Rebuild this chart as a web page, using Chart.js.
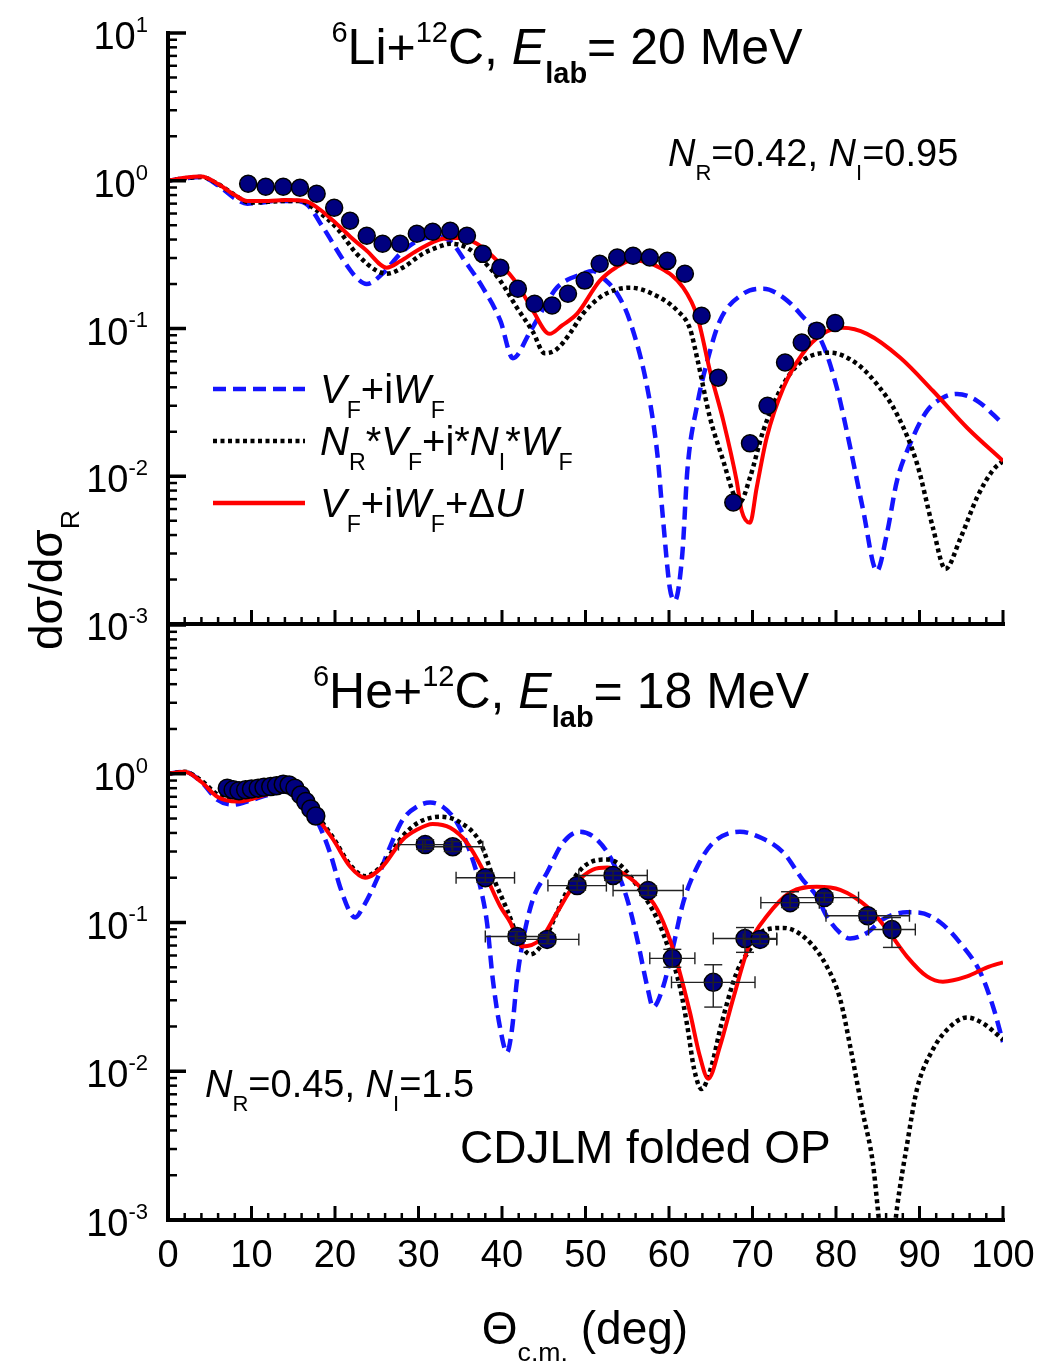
<!DOCTYPE html>
<html>
<head>
<meta charset="utf-8">
<title>6Li+12C and 6He+12C elastic scattering</title>
<script src="https://cdn.jsdelivr.net/npm/chart.js@4.4.1/dist/chart.umd.min.js"></script>
<style>
  body { margin: 0; background: #fff; }
  #figure { position: relative; width: 1049px; height: 1362px; }
  #figure canvas { position: absolute; left: 0; }
</style>
</head>
<body>
<div id="figure">
  <canvas id="liChart" width="1049" height="700" style="top:0"></canvas>
  <canvas id="heChart" width="1049" height="762" style="top:600px"></canvas>
</div>
<script>
// Axis ticks
const angleTicks = [0, 10, 20, 30, 40, 50, 60, 70, 80, 90, 100];
const liDecades = [1, 0, -1, -2, -3];
const heDecades = [0, -1, -2, -3];

// 6Li + 12C at 20 MeV
const liExpAngle = [9.6, 11.7, 13.8, 15.8, 17.8, 19.9, 21.8, 23.8, 25.7, 27.8, 29.8, 31.7, 33.8, 35.8,
  37.7, 39.8, 41.9, 43.9, 46.0, 47.9, 49.9, 51.7, 53.8, 55.7, 57.7, 59.8, 61.9, 63.9, 65.9, 67.7,
  69.7, 71.8, 73.9, 75.9, 77.7, 79.9];
const liExpRatio = [0.954, 0.911, 0.911, 0.897, 0.817, 0.656, 0.536, 0.424, 0.375, 0.375, 0.438, 0.452,
  0.459, 0.424, 0.32, 0.258, 0.186, 0.147, 0.143, 0.172, 0.211, 0.274, 0.302, 0.311, 0.302, 0.287,
  0.235, 0.122, 0.0465, 0.00664, 0.0167, 0.030, 0.0589, 0.0803, 0.0967, 0.109];

// V_F + iW_F
const liFoldAngle = [0, 2, 4, 6, 8, 9.5, 11, 13, 15, 16.5, 18.6, 21.0, 22.6, 23.8, 25.7, 27.8, 29.8,
  32.2, 33.8, 35.8, 37.7, 39.8, 41.3, 43.4, 45.5, 46.6, 49.7, 50.9, 52.1, 53.8, 55.3, 57.4, 58.6,
  59.3, 60.1, 60.7, 61.6, 62.2, 63.4, 64.6, 66.1, 68.9, 71.3, 73.7, 75.7, 78.4, 80.1, 81.7, 83.2,
  84.9, 86.1, 87.3, 88.9, 90.9, 92.8, 94.5, 96.9, 100];
const liFoldRatio = [1.0, 1.04, 1.06, 0.93, 0.76, 0.70, 0.71, 0.73, 0.73, 0.70, 0.48, 0.29, 0.22, 0.20,
  0.235, 0.32, 0.39, 0.42, 0.39, 0.274, 0.189, 0.113, 0.063, 0.096, 0.154, 0.19, 0.235, 0.245, 0.22,
  0.172, 0.113, 0.0397, 0.0142, 0.005, 0.00175, 0.00144, 0.003, 0.011, 0.0309, 0.0606, 0.113, 0.172,
  0.186, 0.162, 0.126, 0.0787, 0.0397, 0.0157, 0.0061, 0.00229, 0.0041, 0.0093, 0.0167, 0.0277,
  0.034, 0.0361, 0.0324, 0.0226];

// N_R*V_F + i*N_I*W_F
const liNormAngle = [0, 2, 4, 6, 8, 9.8, 12, 14, 15.8, 17.8, 20.2, 22.6, 25.0, 26.2, 28.1, 30.5, 32.6,
  33.8, 35.8, 37.7, 39.8, 41.8, 43.7, 45.1, 46.5, 48.1, 49.7, 51.7, 53.5, 55.3, 57.7, 61.0, 62.5,
  63.4, 64.9, 66.5, 67.9, 68.5, 69.7, 71.3, 73.7, 76.0, 79.3, 82.5, 84.9, 87.3, 89.7, 91.6, 93.1,
  94.9, 96.9, 98.8, 100];
const liNormRatio = [1.0, 1.04, 1.06, 0.95, 0.80, 0.71, 0.72, 0.73, 0.73, 0.63, 0.48, 0.32, 0.246,
  0.235, 0.258, 0.32, 0.36, 0.375, 0.352, 0.288, 0.21, 0.138, 0.095, 0.068, 0.072, 0.092, 0.126,
  0.162, 0.182, 0.189, 0.175, 0.132, 0.1, 0.062, 0.025, 0.0127, 0.0072, 0.0067, 0.0098, 0.0204,
  0.042, 0.0606, 0.0686, 0.0577, 0.042, 0.0263, 0.0122, 0.0045, 0.00236, 0.0038, 0.0072, 0.011, 0.0127];

// V_F + iW_F + dU
const liDuAngle = [0, 2, 4, 6, 8, 9.5, 12, 14, 16.4, 18, 19.8, 21.8, 23.8, 26.2, 27.8, 29.8, 32.9,
  34.6, 37.0, 39.8, 41.8, 43.7, 45.7, 47.2, 49.0, 51.7, 53.7, 55.7, 58.9, 61.7, 63.4, 64.9, 66.5,
  68.1, 68.7, 69.7, 70.5, 71.7, 73.7, 76.0, 78.4, 80.8, 83.7, 87.7, 91.6, 95.7, 100];
const liDuRatio = [1.0, 1.05, 1.07, 0.95, 0.80, 0.73, 0.73, 0.74, 0.73, 0.65, 0.536, 0.42, 0.336,
  0.258, 0.285, 0.336, 0.405, 0.41, 0.375, 0.274, 0.201, 0.132, 0.092, 0.105, 0.126, 0.21, 0.26,
  0.29, 0.258, 0.189, 0.12, 0.0518, 0.0238, 0.00933, 0.00584, 0.00484, 0.00836, 0.0182, 0.0397,
  0.0675, 0.092, 0.101, 0.092, 0.0634, 0.0379, 0.0213, 0.0127];

// 6He + 12C at 18 MeV
const heExpAngle = [7.1, 7.8, 8.5, 9.3, 10.0, 10.8, 11.5, 12.3, 13.0, 13.8, 14.5, 15.2, 15.9, 16.5,
  17.1, 17.7, 30.8, 34.1, 38.0, 41.8, 45.4, 49.0, 53.3, 57.5, 60.4, 65.3, 69.1, 70.9, 74.5, 78.6,
  83.8, 86.7];
const heExpRatio = [0.80, 0.78, 0.77, 0.78, 0.79, 0.80, 0.81, 0.82, 0.83, 0.85, 0.84, 0.80, 0.72,
  0.65, 0.58, 0.52, 0.334, 0.323, 0.2, 0.0806, 0.077, 0.177, 0.207, 0.164, 0.0574, 0.0396, 0.078,
  0.077, 0.136, 0.147, 0.111, 0.0897];
const heExpAngleErr = [0, 0, 0, 0, 0, 0, 0, 0, 0, 0, 0, 0, 0, 0, 0, 0, 3.2, 3.6, 3.5, 3.8, 3.8, 3.5,
  4.1, 4.2, 2.7, 5.0, 3.8, 2.0, 3.5, 4.1, 5.0, 2.8];
const heExpRatioLo = [0.80, 0.78, 0.77, 0.78, 0.79, 0.80, 0.81, 0.82, 0.83, 0.85, 0.84, 0.80, 0.72,
  0.65, 0.58, 0.52, 0.31, 0.30, 0.186, 0.075, 0.072, 0.165, 0.192, 0.152, 0.050, 0.027, 0.063,
  0.072, 0.126, 0.137, 0.103, 0.068];
const heExpRatioHi = [0.80, 0.78, 0.77, 0.78, 0.79, 0.80, 0.81, 0.82, 0.83, 0.85, 0.84, 0.80, 0.72,
  0.65, 0.58, 0.52, 0.36, 0.35, 0.215, 0.087, 0.083, 0.19, 0.222, 0.176, 0.066, 0.052, 0.0925,
  0.083, 0.161, 0.158, 0.12, 0.108];

// V_F + iW_F
const heFoldAngle = [0, 2, 4, 5.9, 7.8, 9.8, 12, 14, 15.8, 17.8, 19.4, 20.6, 21.8, 22.4, 23.4, 25.0,
  26.6, 28.1, 29.8, 31.4, 32.9, 34.6, 36.2, 37.4, 38.2, 38.9, 39.8, 40.6, 41.2, 41.8, 42.5, 43.7,
  45.4, 47.3, 49.3, 51.4, 53.3, 55.0, 56.2, 57.4, 58.1, 59.3, 60.5, 61.7, 63.4, 65.3, 68.5, 70.1,
  73.7, 76.0, 77.7, 78.9, 80.5, 81.7, 83.7, 85.6, 88.5, 89.7, 92.5, 95.2, 97.3, 98.8, 100];
const heFoldRatio = [1.0, 1.03, 0.88, 0.67, 0.62, 0.66, 0.72, 0.76, 0.745, 0.49, 0.295, 0.174, 0.117,
  0.108, 0.128, 0.194, 0.324, 0.49, 0.60, 0.64, 0.60, 0.47, 0.295, 0.174, 0.1, 0.0414, 0.0192,
  0.0134, 0.0192, 0.0414, 0.075, 0.143, 0.217, 0.344, 0.408, 0.36, 0.253, 0.143, 0.077, 0.037,
  0.027, 0.037, 0.069, 0.136, 0.238, 0.344, 0.408, 0.39, 0.295, 0.194, 0.15, 0.11, 0.085, 0.078,
  0.085, 0.105, 0.117, 0.117, 0.1, 0.069, 0.046, 0.0273, 0.0157];

// N_R*V_F + i*N_I*W_F
const heNormAngle = [0, 2, 4, 6, 8, 10, 12, 14, 15.8, 17.8, 19.8, 21.8, 23.6, 25.7, 28.1, 30.0, 32.6,
  35.0, 37.4, 38.9, 40.6, 42.2, 43.4, 44.9, 46.6, 48.5, 50.5, 52.6, 54.1, 56.5, 58.6, 60.1, 61.3,
  62.2, 63.0, 63.9, 65.0, 66.3, 68.1, 69.7, 71.3, 73.7, 76.5, 78.9, 80.5, 81.7, 83.2, 84.4, 85.0,
  86.1, 87.3, 88.5, 89.7, 91.6, 93.7, 95.7, 97.6, 100];
const heNormRatio = [1.0, 1.03, 0.9, 0.72, 0.66, 0.68, 0.74, 0.78, 0.75, 0.53, 0.37, 0.245, 0.205,
  0.245, 0.38, 0.47, 0.514, 0.47, 0.344, 0.204, 0.122, 0.073, 0.061, 0.073, 0.117, 0.194, 0.253,
  0.265, 0.245, 0.166, 0.105, 0.063, 0.037, 0.02, 0.0104, 0.0076, 0.0104, 0.021, 0.046, 0.066,
  0.088, 0.092, 0.077, 0.0507, 0.0305, 0.0147, 0.0053, 0.00245, 0.0012, 0.0003, 0.0012, 0.0032,
  0.0076, 0.014, 0.02, 0.023, 0.021, 0.0163];

// V_F + iW_F + dU
const heDuAngle = [0, 2, 4, 5.9, 8.3, 9.8, 12, 14, 15.8, 17.8, 19.8, 21.8, 23.6, 25.7, 28.1, 29.8,
  31.7, 33.8, 35.8, 37.7, 39.8, 41.0, 42.4, 44.6, 46.6, 48.5, 50.9, 52.6, 54.1, 56.5, 58.6, 60.1,
  61.3, 62.5, 63.7, 64.7, 66.1, 67.7, 69.7, 71.7, 74.5, 77.7, 80.5, 83.7, 86.1, 88.5, 90.9, 92.8,
  95.7, 98.1, 100];
const heDuRatio = [1.0, 1.03, 0.88, 0.70, 0.65, 0.67, 0.73, 0.77, 0.745, 0.514, 0.36, 0.238, 0.2,
  0.238, 0.36, 0.42, 0.46, 0.434, 0.344, 0.227, 0.128, 0.1, 0.069, 0.077, 0.117, 0.174, 0.227,
  0.234, 0.22, 0.174, 0.122, 0.077, 0.046, 0.025, 0.0126, 0.0089, 0.0147, 0.031, 0.073, 0.110,
  0.159, 0.174, 0.166, 0.128, 0.09, 0.059, 0.0434, 0.04, 0.0434, 0.05, 0.054];

const FONT = '"Liberation Sans", Arial, Helvetica, sans-serif';
const NAVY = '#00007f';
const BLUE = '#1414ff';
const RED = '#ff0000';

function xy(xs, ys) {
  return xs.map((x, i) => ({ x: x, y: ys[i] }));
}

// Rich text: runs of [text, kind], kind is '', 'i', 'sub', 'subb' or 'sup'
function runFont(kind, size) {
  const small = kind === 'sub' || kind === 'subb' || kind === 'sup';
  const s = small ? size * 0.58 : size;
  return (kind === 'i' ? 'italic ' : '') + (kind === 'subb' ? 'bold ' : '') + s + 'px ' + FONT;
}
function runShift(kind, size) {
  if (kind === 'sub' || kind === 'subb') return size * 0.37;
  if (kind === 'sup') return -size * 0.45;
  return 0;
}
function richText(ctx, runs, x, y, size, align) {
  let w = 0;
  runs.forEach(([t, k]) => { ctx.font = runFont(k, size); w += ctx.measureText(t).width; });
  let cx = align === 'center' ? x - w / 2 : (align === 'right' ? x - w : x);
  ctx.textAlign = 'left';
  ctx.textBaseline = 'alphabetic';
  runs.forEach(([t, k]) => {
    ctx.font = runFont(k, size);
    ctx.fillText(t, cx, y + runShift(k, size));
    cx += ctx.measureText(t).width;
  });
}

function seg(ctx, x1, y1, x2, y2) {
  ctx.beginPath();
  ctx.moveTo(x1, y1);
  ctx.lineTo(x2, y2);
  ctx.stroke();
}

// Inward ticks, axis lines and tick labels
function drawAxes(chart, decades, angleLabels) {
  const { ctx, chartArea: a, scales: { x, y } } = chart;
  ctx.save();
  ctx.strokeStyle = '#000';
  ctx.fillStyle = '#000';
  for (let v = 0; v <= 100; v += 2) {
    const px = x.getPixelForValue(v);
    const major = v % 10 === 0;
    ctx.lineWidth = major ? 3 : 2.5;
    seg(ctx, px, a.bottom, px, a.bottom - (major ? 14 : 7));
  }
  for (let e = -3; e <= 1; e++) {
    for (let m = 1; m <= 9; m++) {
      const v = m * Math.pow(10, e);
      if (v > 10.001) break;
      const py = y.getPixelForValue(v);
      ctx.lineWidth = m === 1 ? 3.5 : 2.5;
      seg(ctx, a.left, py, a.left + (m === 1 ? 18 : 9), py);
    }
  }
  ctx.lineWidth = 4;
  ctx.lineCap = 'square';
  seg(ctx, a.left, a.top, a.left, a.bottom);
  seg(ctx, a.left, a.bottom, a.right, a.bottom);

  decades.forEach(e => {
    const py = y.getPixelForValue(Math.pow(10, e));
    richText(ctx, [['10', ''], [String(e), 'sup']], 148, py + 16, 38, 'right');
  });
  if (angleLabels) {
    ctx.font = '38px ' + FONT;
    ctx.textAlign = 'center';
    ctx.textBaseline = 'alphabetic';
    angleLabels.forEach(v => ctx.fillText(String(v), x.getPixelForValue(v), a.bottom + 47));
  }
  ctx.restore();
}

function legendRow(ctx, y, color, width, dash, runs) {
  ctx.strokeStyle = color;
  ctx.lineWidth = width;
  ctx.setLineDash(dash);
  seg(ctx, 213, y, 305, y);
  ctx.setLineDash([]);
  richText(ctx, runs, 320, y + 14, 40, 'left');
}

const liFrame = {
  id: 'liFrame',
  afterDatasetsDraw(chart) {
    const ctx = chart.ctx;
    drawAxes(chart, liDecades, null);
    ctx.save();
    ctx.fillStyle = '#000';
    richText(ctx, [['6', 'sup'], ['Li+', ''], ['12', 'sup'], ['C, ', ''], ['E', 'i'], ['lab', 'subb'],
      ['= 20 MeV', '']], 567, 64, 50, 'center');
    richText(ctx, [['N', 'i'], ['R', 'sub'], ['=0.42, ', ''], ['N', 'i'], ['I', 'sub'], ['=0.95', '']],
      668, 166, 38, 'left');
    legendRow(ctx, 389, BLUE, 4.5, [13, 7],
      [['V', 'i'], ['F', 'sub'], ['+i', ''], ['W', 'i'], ['F', 'sub']]);
    legendRow(ctx, 441, '#000', 4.5, [4, 3.5],
      [['N', 'i'], ['R', 'sub'], ['*', ''], ['V', 'i'], ['F', 'sub'], ['+i*', ''], ['N', 'i'], ['I', 'sub'],
       ['*', ''], ['W', 'i'], ['F', 'sub']]);
    legendRow(ctx, 503, RED, 4.5, [],
      [['V', 'i'], ['F', 'sub'], ['+i', ''], ['W', 'i'], ['F', 'sub'], ['+\u0394', ''], ['U', 'i']]);
    // y axis title, shared by both panels
    ctx.fillStyle = '#000';
    ctx.translate(62, 580);
    ctx.rotate(-Math.PI / 2);
    richText(ctx, [['d\u03c3/d\u03c3', ''], ['R', 'sub']], 0, 0, 46, 'center');
    ctx.restore();
  }
};

const heFrame = {
  id: 'heFrame',
  afterDatasetsDraw(chart) {
    const { ctx, scales: { x, y } } = chart;
    // error bars of the measured points
    ctx.save();
    ctx.strokeStyle = '#222';
    ctx.lineWidth = 1.4;
    heExpAngle.forEach((a, i) => {
      const px = x.getPixelForValue(a);
      const py = y.getPixelForValue(heExpRatio[i]);
      if (heExpAngleErr[i] > 0) {
        const l = x.getPixelForValue(a - heExpAngleErr[i]);
        const r = x.getPixelForValue(a + heExpAngleErr[i]);
        seg(ctx, l, py, r, py);
        seg(ctx, l, py - 6, l, py + 6);
        seg(ctx, r, py - 6, r, py + 6);
      }
      if (heExpRatioHi[i] > heExpRatioLo[i]) {
        const t = y.getPixelForValue(heExpRatioHi[i]);
        const b = y.getPixelForValue(heExpRatioLo[i]);
        seg(ctx, px, t, px, b);
        seg(ctx, px - 9, t, px + 9, t);
        seg(ctx, px - 9, b, px + 9, b);
      }
    });
    ctx.restore();

    drawAxes(chart, heDecades, angleTicks);
    ctx.save();
    ctx.fillStyle = '#000';
    richText(ctx, [['6', 'sup'], ['He+', ''], ['12', 'sup'], ['C, ', ''], ['E', 'i'], ['lab', 'subb'],
      ['= 18 MeV', '']], 561, 108, 50, 'center');
    richText(ctx, [['N', 'i'], ['R', 'sub'], ['=0.45, ', ''], ['N', 'i'], ['I', 'sub'], ['=1.5', '']],
      205, 497, 38, 'left');
    ctx.font = '46px ' + FONT;
    ctx.fillText('CDJLM folded OP', 460, 563);
    richText(ctx, [['\u0398', ''], ['c.m.', 'sub'], [' (deg)', '']], 585, 744, 46, 'center');
    ctx.restore();
  }
};

function curve(label, xs, ys, color, dash, width) {
  return {
    label: label,
    data: xy(xs, ys),
    borderColor: color,
    borderWidth: width,
    borderDash: dash,
    pointRadius: 0,
    fill: false,
    cubicInterpolationMode: 'monotone'
  };
}

function points(label, xs, ys, radius) {
  return {
    label: label,
    data: xy(xs, ys),
    showLine: false,
    pointRadius: radius,
    pointBackgroundColor: NAVY,
    pointBorderColor: '#000',
    pointBorderWidth: 1.5
  };
}

function makePanel(id, datasets, padding, plugin) {
  return new Chart(document.getElementById(id), {
    type: 'line',
    data: { datasets: datasets },
    options: {
      responsive: false,
      animation: false,
      events: [],
      layout: { padding: padding },
      plugins: { legend: { display: false }, tooltip: { enabled: false } },
      scales: {
        x: { type: 'linear', min: 0, max: 100, display: false },
        y: { type: 'logarithmic', min: 1e-3, max: 10, display: false }
      }
    },
    plugins: [plugin]
  });
}

makePanel('liChart', [
  points('data', liExpAngle, liExpRatio, 8.5),
  curve('VF+iWF+dU', liDuAngle, liDuRatio, RED, [], 4),
  curve('NR*VF+i*NI*WF', liNormAngle, liNormRatio, '#000', [4, 3.5], 4.5),
  curve('VF+iWF', liFoldAngle, liFoldRatio, BLUE, [13, 7], 4.5)
], { left: 168, right: 46, top: 33, bottom: 76 }, liFrame);

makePanel('heChart', [
  points('data', heExpAngle, heExpRatio, 9),
  curve('VF+iWF+dU', heDuAngle, heDuRatio, RED, [], 4),
  curve('NR*VF+i*NI*WF', heNormAngle, heNormRatio, '#000', [4, 3.5], 4.5),
  curve('VF+iWF', heFoldAngle, heFoldRatio, BLUE, [13, 7], 4.5)
], { left: 168, right: 46, top: 25, bottom: 142 }, heFrame);
</script>
</body>
</html>
